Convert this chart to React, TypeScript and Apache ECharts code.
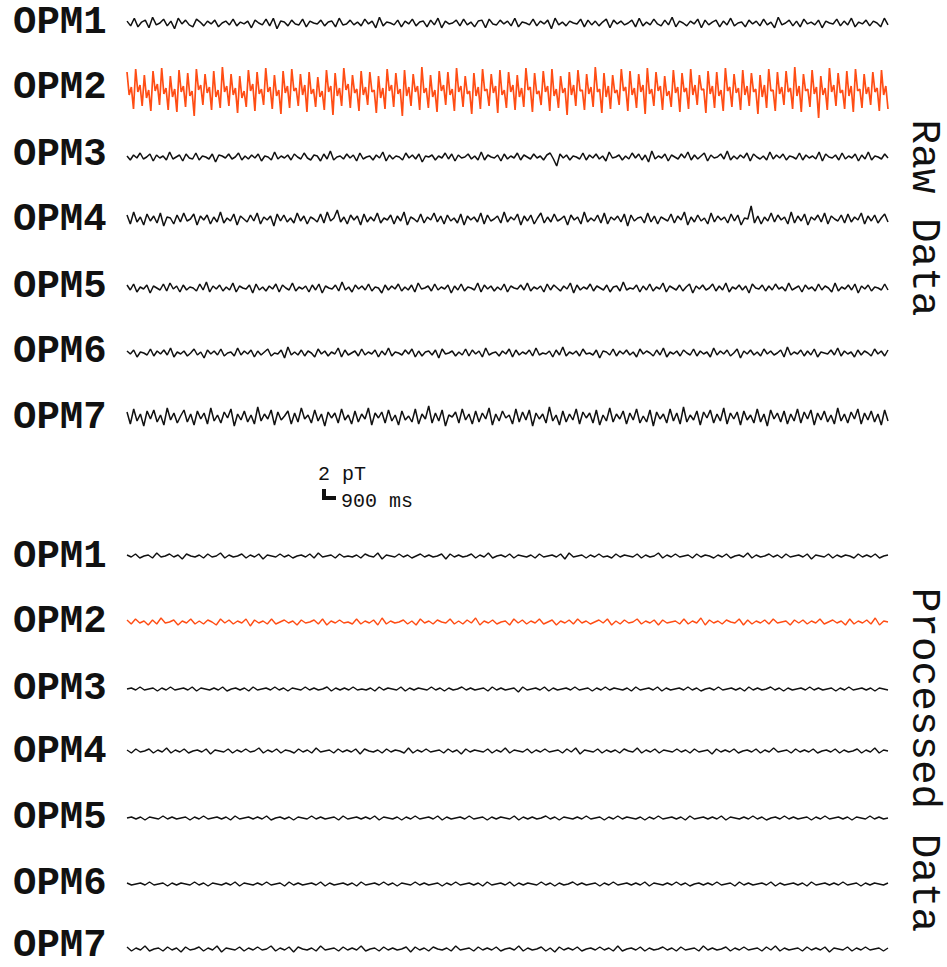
import React, { useEffect, useRef } from 'react';
import * as echarts from 'echarts';

// Channel names
const CHANNELS = ['OPM1', 'OPM2', 'OPM3', 'OPM4', 'OPM5', 'OPM6', 'OPM7'];

// Raw data traces (arbitrary units)
const RAW1 = [2,-3,5,-4,1,3,-5,6,-2,0,4,-3,2,-6,5,-1,3,-2,-4,4,1,-3,2,-1,3,-4,0,2,-2,4,-3,1,-1,2,-5,3,0,-2,4,-3,
5,-6,2,1,-3,3,-1,-2,4,-4,2,0,-1,3,-3,1,2,-4,5,-2,-1,3,-2,1,-3,4,-1,2,-5,6,-3,1,0,-2,3,-4,2,-1,4,-3,
1,2,-4,3,-2,5,-5,2,-1,0,3,-3,4,-2,1,-4,2,3,-5,4,-1,-2,3,-1,2,-3,5,-4,1,0,-2,4,-3,2,-1,3,-6,5,-2,1,
-3,2,0,-1,4,-4,3,-2,2,-3,1,4,-5,3,-1,2,-2,0,3,-4,5,-3,1,-2,4,-1,-3,3,-2,6,-4,2,0,-3,2,-1,4,-5,3,
-2,1,3,-4,2,-2,5,-3,0,1,-4,3,-1,2,-3,4,-2,1,-5,6,-2,0,3,-3,2,-4,4,-1,1,-2,3,-5,2,0,-1,4,-3,2,-2,5,
-4,1,-1,3,-3,2,0,-4,5,-2];

// OPM2 raw: strong periodic interference, one cycle per group of four samples
const RAW2 = [20,-3,5,-17, 23,0,7,-14, 17,-6,2,-19, 21,1,8,-13, 24,-2,4,-18, 16,-5,3,-20, 22,0,6,-15, 19,-4,1,-24, 23,2,7,-13, 18,-1,5,-18,
21,-5,2,-16, 25,0,6,-14, 18,-3,4,-21, 16,-6,1,-15, 22,1,8,-19, 20,-2,3,-13, 24,0,5,-17, 17,-4,2,-22, 21,-1,6,-16, 23,1,4,-14,
18,-3,7,-20, 20,-2,3,-15, 15,-5,1,-18, 22,0,6,-23, 19,-4,4,-14, 24,2,8,-16, 17,-1,3,-19, 21,-3,5,-13, 20,0,2,-21, 16,-6,4,-17,
23,1,7,-15, 19,-2,3,-24, 22,-4,5,-14, 18,0,6,-18, 25,-1,4,-16, 17,-5,2,-20, 21,1,7,-13, 20,-3,3,-19, 24,0,6,-15, 16,-2,1,-22,
19,-4,5,-17, 23,1,3,-14, 18,-1,6,-21, 22,-3,2,-16, 20,0,7,-18, 17,-5,4,-15, 24,2,5,-20, 19,-2,1,-13, 21,0,6,-19, 23,-4,3,-16,
16,-1,4,-23, 20,-3,7,-14, 22,1,2,-18, 18,-2,5,-15, 25,0,3,-21, 19,-5,6,-17, 17,-1,2,-13, 23,1,5,-19, 21,-3,4,-16, 18,0,7,-22,
24,-2,3,-14, 20,1,6,-18, 16,-4,1,-15, 22,-1,5,-20, 19,0,4,-17, 23,-3,7,-13, 17,2,3,-21, 21,-2,6,-16, 20,-4,2,-19, 24,1,5,-15,
18,-1,4,-18, 22,-3,6,-14, 19,0,3,-22, 17,-5,7,-16, 23,1,2,-19, 20,-2,5,-13, 21,0,4,-17, 25,-4,6,-20, 18,1,3,-15, 22,-2,5,-26,
16,-3,4,-18, 24,0,7,-14, 19,-1,2,-17, 21,-4,6,-20, 23,1,3,-16, 18,-2,5,-13, 20,0,4,-19, 22,-3,6,-17];

const RAW3 = [1,-3,2,-1,4,-2,0,3,-4,2,-1,1,-3,5,-2,0,2,-4,3,-1,-2,4,-3,1,0,-2,3,-5,2,1,-1,3,-2,0,4,-3,1,-2,2,-1,
3,-4,1,0,-3,5,-2,1,-1,2,-3,3,0,-2,4,-1,-3,2,1,-4,3,-2,6,-3,0,1,-2,3,-1,2,-4,4,-2,0,1,-3,2,-1,5,-4,
2,-2,1,0,-3,4,-1,2,-2,3,-5,1,0,2,-3,1,-1,4,-2,3,-4,2,-1,0,3,-2,1,-3,5,-3,2,0,-1,2,-4,3,-2,1,-1,4,
-3,2,0,-2,3,-1,1,-3,2,4,-2,-9,3,-1,2,-3,1,0,-2,4,-3,2,-1,3,-2,1,-4,5,-1,0,2,-3,1,-2,4,-1,3,-3,2,
-5,6,-2,1,-1,3,-4,2,0,-2,3,-1,5,-3,2,-2,1,4,-4,2,-1,0,3,-2,6,-3,1,-2,2,-1,4,-4,3,0,-2,1,-3,5,-2,2,
-1,3,-3,1,0,-2,4,-3,2,-1,1,-2,5,-4,3,0,-1,2,-3,4,-2,1,-1,3,-4,2,-2,5,-3,1,0,-2,3,-1];

const RAW4 = [4,-5,7,-3,2,-6,5,-2,3,-4,6,-7,2,1,-5,4,-3,6,-2,0,5,-6,3,-1,4,-5,2,-3,7,-4,1,-2,5,-6,3,0,-3,4,-2,6,
-5,2,-1,3,-7,5,-2,4,-3,1,-4,6,-2,3,-5,2,0,-3,5,-4,7,-2,1,9,-3,2,-5,4,-1,3,-6,5,-3,2,-2,6,-4,1,-1,4,
-5,3,-2,7,-6,2,0,-3,5,-4,2,-1,6,-3,3,-5,4,-2,1,-4,5,-6,3,-1,2,-3,6,-5,4,-2,0,3,-4,7,-3,2,-1,5,-6,
3,-2,4,-5,1,6,-4,2,-3,5,-2,0,3,-6,4,-1,2,-5,7,-3,1,-2,4,-4,6,-5,2,-1,3,-3,5,-7,4,-2,1,2,-4,6,-3,3,
-5,2,0,-2,5,-4,3,-1,7,-6,2,-3,4,-2,1,-5,6,-3,3,-1,2,-4,5,-2,4,-6,1,0,13,-4,3,-5,2,-2,6,-3,4,-1,2,
-5,7,-4,3,-2,5,-6,2,-1,4,-3,6,-5,3,0,-2,4,-4,5,-3,2,-1,6,-5,3,-2,4,-4,1,5,-3];

const RAW5 = [3,-2,4,-4,1,-1,3,-5,2,0,-2,4,-3,5,-1,2,-4,3,-2,1,0,-3,4,-2,6,-4,2,-1,3,-3,1,-2,5,-4,2,0,-1,3,-5,4,
-2,1,-3,2,-1,4,-4,3,0,-2,5,-3,1,-1,2,-4,3,-2,4,-5,2,0,-1,3,-3,6,-2,1,-4,3,-1,2,-2,4,-3,1,0,-5,3,-2,
2,-1,4,-3,1,-2,3,-4,5,-1,0,2,-3,4,-2,1,-1,3,-5,2,-2,4,-3,1,0,-2,5,-4,3,-1,2,-3,1,-2,4,-4,2,0,-1,3,
-2,5,-3,1,-1,2,-4,4,-2,3,0,-3,2,-1,5,-5,3,-2,1,-1,4,-3,2,0,-2,3,-4,1,2,-3,6,-2,0,-1,3,-4,2,-2,4,
-3,1,-1,5,-4,2,0,-2,3,-3,1,4,-5,2,-1,3,-2,0,4,-3,2,-2,5,-4,1,-1,3,-2,2,-5,4,0,-1,3,-3,2,-2,4,-1,1,
-3,5,-2,0,2,-4,3,-1,1,-3,4,-2,2,0,-4,5,-3,1,-1,3,-2,4,-5,2,-1,3,-3,1,0,-2,4,-2];

const RAW6 = [2,-1,3,-4,1,0,-2,4,-3,2,-1,3,-2,5,-4,1,-1,2,-3,0,4,-2,1,-5,3,-1,2,-2,4,-3,0,1,-3,5,-2,2,-1,3,-4,2,
-2,1,4,-3,0,-1,3,-5,6,-2,1,-2,3,-3,2,0,-4,4,-1,2,-3,1,-1,5,-4,3,-2,0,2,-3,4,-2,1,-1,3,-4,2,-2,5,-3,
1,0,-2,3,-1,4,-4,2,-3,1,2,-2,3,-5,4,-1,0,2,-3,1,-2,4,-3,3,-1,2,-4,5,-2,0,1,-3,2,-1,4,-4,3,-2,1,-1,
3,-3,5,-2,0,-1,2,-4,3,-2,6,-3,1,-1,2,-3,4,-1,0,-2,3,-5,2,1,-2,4,-3,2,-1,3,-2,1,-4,4,-1,2,0,-3,3,-2,
5,-4,1,-1,2,-3,3,0,-2,4,-3,2,-1,1,-4,5,-2,2,-1,3,-3,0,4,-5,2,-1,3,-2,1,-3,4,-1,2,-2,0,3,-4,6,-2,1,
-1,3,-3,2,-2,4,-4,1,0,-1,3,-2,5,-3,2,-1,1,-4,3,-2,2,0,-3,4,-1,2,-3,3];

const RAW7 = [5,-7,8,-4,3,-9,6,-2,7,-5,2,-8,9,-3,4,-6,1,7,-5,3,-8,6,-2,4,-7,9,-4,2,-6,5,-1,8,-9,3,-3,6,-5,2,-7,10,
-4,3,-2,7,-8,5,-3,1,6,-7,4,-5,9,-2,2,-6,7,-4,3,-9,5,-1,4,-6,8,-3,2,-7,6,-5,3,-2,9,-8,4,-1,5,-6,7,-4,
2,-8,6,-3,1,-5,8,-7,3,-2,11,-6,4,-4,7,-9,2,0,5,-6,8,-3,3,-7,6,-5,4,-2,9,-8,3,-4,6,-1,2,-7,8,-5,5,-3,
7,-9,4,-2,3,-6,10,-4,2,-8,6,-5,3,-3,8,-7,5,-1,4,-6,7,-8,2,-4,9,-5,3,-2,6,-7,4,-3,8,-6,1,-5,7,-9,5,
-2,3,-6,8,-4,4,-7,10,-5,2,-3,6,-8,5,-1,7,-6,3,-4,9,-7,4,-2,5,-8,6,-3,2,-6,8,-5,3,-9,7,-2,4,-5,6,-7,
3,-4,8,-6,5,-2,7,-8,4,-3,6,-5,2,-7,9,-4,3,-6,5,-2,8,-7,4,-3,6,-5,3,-8,7,-4];

// Processed data traces
const PROC1 = [1,-1,2,-2,0,1,-2,3,-1,0,2,-1,1,-3,2,0,-1,1,-2,2,-1,0,3,-2,1,-1,0,2,-2,1,-1,2,-3,1,0,-1,2,-1,1,-2,
0,1,-1,2,-2,3,-1,0,1,-2,2,-1,0,-1,1,-2,2,0,-1,3,-3,1,0,-1,2,-1,1,-2,0,2,-1,1,-1,0,2,-3,2,-1,1,-1,
0,2,-2,1,-1,3,-2,0,1,-1,2,-2,1,0,-1,1,-2,2,-1,0,1,-1,2,-3,3,-1,0,1,-2,1,-1,2,-1,0,-2,2,-1,1,0,-1,
2,-2,1,-1,0,3,-2,1,-1,2,-1,0,1,-2,2,-1,1,0,-2,1,-1,2,-2,0,1,-1,3,-2,1,-1,0,2,-1,1,-2,2,-1,0,1,-1,
2,-3,1,0,-1,2,-2,1,-1,1,0,-2,2,-1,1,-1,2,-2,0,1];

const PROC2 = [2,-2,3,-1,1,-3,2,-2,4,-1,0,2,-3,1,-1,3,-2,1,-2,2,0,-3,3,-1,2,-2,1,-1,3,-4,2,-1,1,-2,3,-2,0,2,-1,1,
-3,2,-1,0,2,-2,3,-3,1,-1,2,-1,0,-2,3,-2,1,-1,2,-3,4,-2,1,-1,0,2,-2,1,-3,3,-1,1,-2,2,0,-1,3,-2,1,-2,
2,-1,4,-3,1,-1,2,-2,0,1,-3,3,-1,2,-2,1,-1,3,-2,0,2,-3,1,-1,2,-2,3,-1,1,-2,0,2,-1,3,-3,1,-2,2,-1,0,
3,-2,1,-1,2,-3,2,-1,0,1,-2,3,-2,1,-1,4,-3,2,-1,1,-2,2,0,-1,3,-3,2,-2,1,-1,2,-2,3,-1,0,1,-3,2,-1,2,
-2,1,-1,3,-2,0,2,-1,1,-3,3,-2,1,-1,2,-2,4,-3,1,0];

const PROC3 = [0,1,-1,2,-1,0,1,-2,1,-1,2,-1,0,1,-1,2,-2,1,0,-1,1,-1,2,-2,0,1,-1,1,-2,2,-1,0,1,-1,2,-1,1,-2,1,0,
-1,2,-1,1,-1,0,2,-2,1,-1,1,-1,2,-1,0,-1,1,-2,2,-1,1,0,-1,2,-2,1,-1,1,0,-1,2,-1,1,-2,1,-1,0,2,-1,1,
-1,0,1,-2,2,-1,1,-1,0,1,-3,2,-1,0,1,-1,2,-2,1,-1,0,1,-1,2,-1,0,1,-2,1,-1,2,-1,1,0,-1,1,-2,2,-1,0,
1,-1,2,-2,1,-1,0,1,-1,2,-1,1,-2,0,1,-1,2,-1,0,1,-1,1,-2,2,-1,1,-1,0,2,-1,1,-2,1,-1,0,1,-1,2,-1,1,
-1,0,1,-2,1,-1,2,-1,0,1,-1,1,-2,1,0,-1];

const PROC4 = [1,-2,2,-1,0,2,-2,1,-1,3,-2,1,-1,2,-2,0,1,-1,2,-3,1,0,-1,2,-2,1,-1,2,-1,0,3,-2,1,-1,2,-2,1,0,-2,2,
-1,1,-2,3,-1,0,1,-2,2,-1,1,-1,2,-3,2,0,-1,1,-2,2,-1,1,0,-2,3,-2,1,-1,2,-1,0,1,-2,2,-1,1,-3,2,-1,1,
0,-1,2,-2,1,-1,3,-2,1,0,-1,2,-2,1,-1,2,-1,0,1,-2,2,-1,3,-3,1,0,-1,2,-2,1,-1,1,-2,2,0,-1,3,-2,1,-1,
2,-2,1,0,-1,2,-1,1,-2,2,-1,0,1,-3,2,-1,1,-1,2,-2,0,1,-1,2,-2,1,-1,3,-1,0,1,-2,2,-1,1,-1,2,-2,0,1,
-1,2,-2,1,-1,0,2,-2,1,-1,3,-2,1,0];

const PROC5 = [0,1,-1,1,-2,1,0,-1,2,-1,1,-1,0,1,-2,1,-1,2,-1,0,1,-1,1,-2,2,-1,0,1,-1,1,-1,2,-2,0,1,-1,1,-2,1,0,
-1,2,-1,1,-1,0,1,-2,2,-1,0,1,-1,1,-1,2,-2,1,0,-1,1,-2,1,-1,2,-1,0,1,-1,2,-2,1,-1,0,1,-1,2,-1,0,1,
-2,1,-1,1,0,-1,2,-2,1,-1,1,-1,0,2,-1,1,-2,1,0,-1,1,-1,2,-1,0,1,-2,1,-1,2,-1,1,0,-1,1,-2,1,-1,2,-1,
0,1,-1,1,-2,2,-1,0,1,-1,1,-1,2,-2,1,0,-1,1,-1,2,-1,1,-2,0,1,-1,2,-1,1,-1,0,1,-2,1,-1,2,-1,0,1,-1,
1,-2,1,0,-1,2,-1,1,-1,0];

const PROC6 = [1,-1,0,1,-1,2,-1,0,1,-2,1,-1,1,0,-1,2,-1,1,-2,1,0,-1,1,-1,2,-2,1,0,-1,1,-1,2,-1,0,1,-2,2,-1,1,-1,
0,1,-1,2,-2,1,-1,0,1,-1,1,-2,2,-1,0,1,-1,2,-1,1,-2,1,0,-1,2,-1,1,-1,0,1,-2,1,-1,2,-1,0,1,-1,1,-2,
2,-1,0,1,-1,2,-2,1,-1,1,0,-1,2,-1,1,-2,1,-1,0,2,-1,1,-1,0,1,-2,1,-1,2,-1,0,1,-1,1,-1,2,-2,1,0,-1,
1,-1,2,-1,1,-2,0,1,-1,1,-1,2,-1,0,1,-2,2,-1,1,-1,0,1,-1,2,-2,1,-1,0,1,-1,1,-2,2,-1,0,1,-1,1,-1,2,
-1,0,1,-2,1,-1,1,0,-1,1];

const PROC7 = [2,-2,1,-1,3,-2,0,1,-2,2,-1,1,-3,2,-1,0,2,-2,1,-1,3,-3,1,0,-1,2,-2,1,-1,2,-1,0,3,-2,1,-1,2,-3,2,0,
-1,1,-2,3,-1,0,1,-2,2,-1,1,-1,3,-2,0,1,-2,2,-1,1,-1,0,2,-3,2,-1,1,-2,2,0,-1,1,-2,3,-1,0,1,-2,2,-1,
1,-1,2,-2,0,1,-1,3,-2,1,-1,0,2,-2,1,-3,2,-1,1,-1,2,-2,0,1,-1,2,-1,1,-2,3,-2,0,1,-1,2,-2,1,-1,0,2,
-1,1,-2,2,-1,0,1,-2,3,-1,1,-1,0,2,-2,1,-1,2,-1,0,1,-2,2,-1,3,-2,1,-1,0,1,-2,2,-1,1,-1,2,-3,1,0,-1,
2,-2,1,-1,2,-1,0,1,-2,1];

const RAW = [RAW1, RAW2, RAW3, RAW4, RAW5, RAW6, RAW7];
const PROC = [PROC1, PROC2, PROC3, PROC4, PROC5, PROC6, PROC7];

// Layout (pixel centres of each trace and label)
const RAW_CENTERS = [22, 92, 157, 219, 288, 353, 417];
const PROC_CENTERS = [556, 622, 689, 751, 818, 884, 949];
const RAW_LABEL_Y = [23, 88, 155, 220, 287, 352, 418];
const PROC_LABEL_Y = [557, 622, 689, 752, 818, 884, 946];

const BLACK = '#111111';
const ORANGE = '#ff4d14';

export default function App() {
  const ref = useRef<HTMLDivElement>(null);
  useEffect(() => {
    if (!ref.current) return;
    const chart = echarts.init(ref.current, null, { renderer: 'svg' });
    const grids: any[] = [];
    const xAxes: any[] = [];
    const yAxes: any[] = [];
    const series: any[] = [];
    const graphics: any[] = [];

    const addTrace = (data: number[], center: number, half: number, color: string, width: number) => {
      const idx = grids.length;
      grids.push({ left: 127, width: 761, top: center - half, height: half * 2, containLabel: false });
      xAxes.push({ type: 'value', gridIndex: idx, min: 0, max: data.length - 1, show: false });
      yAxes.push({ type: 'value', gridIndex: idx, min: -half, max: half, show: false });
      series.push({
        type: 'line',
        xAxisIndex: idx,
        yAxisIndex: idx,
        showSymbol: false,
        symbol: 'none',
        silent: true,
        lineStyle: { width, color },
        data: data.map((v, i) => [i, v]),
      });
    };

    RAW.forEach((d, i) => addTrace(d, RAW_CENTERS[i], i === 1 ? 30 : 24, i === 1 ? ORANGE : BLACK, i === 1 ? 1.7 : 1.5));
    PROC.forEach((d, i) => addTrace(d, PROC_CENTERS[i], 7, i === 1 ? ORANGE : BLACK, 1.4));

    const labelFont = { fontFamily: '"Liberation Mono", "Courier New", monospace', fontWeight: 'bold', fontSize: 39, fill: '#111' };
    CHANNELS.forEach((name, i) => {
      graphics.push({ type: 'text', x: 13, y: RAW_LABEL_Y[i], style: { text: name, ...labelFont, textAlign: 'left', textVerticalAlign: 'middle' } });
      graphics.push({ type: 'text', x: 13, y: PROC_LABEL_Y[i], style: { text: name, ...labelFont, textAlign: 'left', textVerticalAlign: 'middle' } });
    });

    const sideFont = { fontFamily: '"Liberation Mono", "Courier New", monospace', fontSize: 41, fill: '#111' };
    graphics.push({ type: 'text', x: 924, y: 218, rotation: -Math.PI / 2, style: { text: 'Raw Data', ...sideFont, textAlign: 'center', textVerticalAlign: 'middle' } });
    graphics.push({ type: 'text', x: 924, y: 760, rotation: -Math.PI / 2, style: { text: 'Processed Data', ...sideFont, textAlign: 'center', textVerticalAlign: 'middle' } });

    // Scale bar
    const smallFont = { fontFamily: '"Liberation Mono", "Courier New", monospace', fontSize: 20, fill: '#111' };
    graphics.push({ type: 'text', x: 318, y: 474, style: { text: '2 pT', ...smallFont, textAlign: 'left', textVerticalAlign: 'middle' } });
    graphics.push({ type: 'text', x: 341, y: 501, style: { text: '900 ms', ...smallFont, textAlign: 'left', textVerticalAlign: 'middle' } });
    graphics.push({ type: 'polyline', shape: { points: [[324, 489], [324, 498], [336, 498]] }, style: { stroke: '#111', lineWidth: 4, fill: 'none' } });

    chart.setOption({
      animation: false,
      backgroundColor: '#ffffff',
      grid: grids,
      xAxis: xAxes,
      yAxis: yAxes,
      series,
      graphic: { elements: graphics },
    });
    return () => chart.dispose();
  }, []);
  return <div ref={ref} style={{ position: 'fixed', left: 0, top: 0, width: 947, height: 967 }} />;
}
